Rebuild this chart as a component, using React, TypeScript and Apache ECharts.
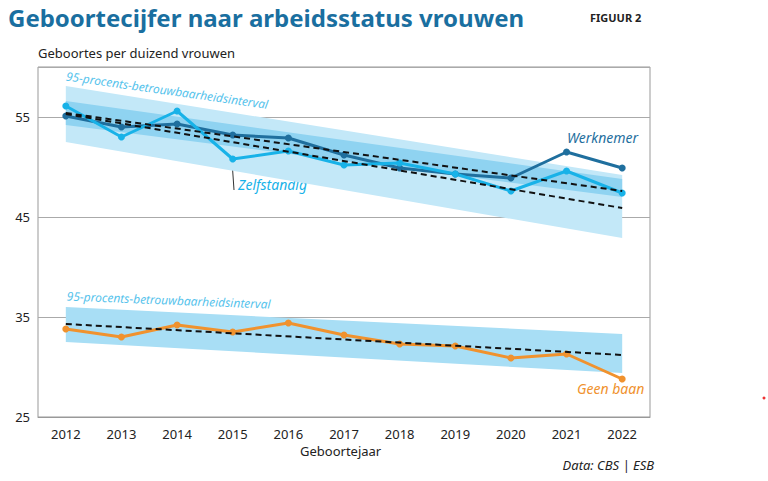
import React, { useEffect, useRef } from "react";
import * as echarts from "echarts";

const years = ["2012", "2013", "2014", "2015", "2016", "2017", "2018", "2019", "2020", "2021", "2022"];
const werknemer = [55.1, 54.0, 54.3, 53.2, 52.9, 51.2, 49.9, 49.3, 48.9, 51.5, 49.9];
const zelfstandig = [56.1, 53.0, 55.6, 50.8, 51.6, 50.2, 50.4, 49.3, 47.6, 49.6, 47.4];
const geenBaan = [33.8, 33.0, 34.2, 33.5, 34.4, 33.2, 32.3, 32.1, 30.9, 31.3, 28.8];

// trend lines and bands: values at 2012 and 2022
const trendWerknemer = [55.4, 47.6];
const trendZelfstandig = [55.3, 45.9];
const trendGeenBaan = [34.3, 31.2];
const bandZelfLow = [52.5, 42.9];
const bandZelfHigh = [58.1, 49.2];
const bandWerkLow = [54.2, 47.0];
const bandWerkHigh = [56.6, 48.8];
const bandGeenLow = [32.5, 29.4];
const bandGeenHigh = [36.0, 33.3];

const ends = (v: number[]) => [[years[0], v[0]], [years[years.length - 1], v[1]]];
const width = (lo: number[], hi: number[]) => [hi[0] - lo[0], hi[1] - lo[1]];

const band = (name: string, lo: number[], hi: number[], color: string) => [
  {
    type: "line", stack: name, data: ends(lo), symbol: "none",
    lineStyle: { opacity: 0 }, silent: true, z: 1,
  },
  {
    type: "line", stack: name, data: ends(width(lo, hi)), symbol: "none",
    lineStyle: { opacity: 0 }, areaStyle: { color, opacity: 1 }, silent: true, z: 1,
  },
];

const trend = (v: number[]) => ({
  type: "line", data: ends(v), symbol: "none", z: 4,
  lineStyle: { color: "#111", width: 2, type: [6, 4] },
});

const main = (data: number[], color: string) => ({
  type: "line", data, symbol: "circle", symbolSize: 7, z: 3,
  lineStyle: { color, width: 3 }, itemStyle: { color },
});

const App: React.FC = () => {
  const ref = useRef<HTMLDivElement>(null);

  useEffect(() => {
    if (!ref.current) return;
    const chart = echarts.init(ref.current, undefined, { renderer: "svg" });
    chart.setOption({
      animation: false,
      textStyle: { fontFamily: "Noto Sans" },
      grid: { left: 38, right: 118, top: 67, bottom: 64 },
      xAxis: {
        type: "category", data: years,
        axisLine: { lineStyle: { color: "#999" } },
        axisTick: { alignWithLabel: true, length: 6, lineStyle: { color: "#999" } },
        axisLabel: { color: "#222", fontSize: 13, margin: 10 },
      },
      yAxis: {
        type: "value", min: 25, max: 60, interval: 10,
        axisLabel: { color: "#222", fontSize: 13, showMaxLabel: false },
        splitLine: { lineStyle: { color: "#aaa" } },
      },
      series: [
        ...band("z", bandZelfLow, bandZelfHigh, "#c3e8f8"),
        ...band("w", bandWerkLow, bandWerkHigh, "#8fd3f1"),
        ...band("g", bandGeenLow, bandGeenHigh, "#a8def5"),
        main(werknemer, "#1f6f9e"),
        main(zelfstandig, "#18b2e8"),
        main(geenBaan, "#f0922e"),
        trend(trendWerknemer),
        trend(trendZelfstandig),
        trend(trendGeenBaan),
      ],
      graphic: [
        { type: "rect", shape: { x: 38, y: 67, width: 612, height: 350 }, style: { fill: "none", stroke: "#999", lineWidth: 1 }, silent: true },
        { type: "text", left: 8, top: 5, style: { text: "Geboortecijfer naar arbeidsstatus vrouwen", fill: "#1a6fa0", font: "bold 24px 'Noto Sans'" } },
        { type: "text", left: 590, top: 12, style: { text: "FIGUUR 2", fill: "#222", font: "bold 11px 'Noto Sans'" } },
        { type: "text", left: 38, top: 46, style: { text: "Geboortes per duizend vrouwen", fill: "#222", font: "13px 'Noto Sans'" } },
        { type: "text", x: 67, y: 70, rotation: -0.14, style: { text: "95-procents-betrouwbaarheidsinterval", fill: "#56c3ec", font: "italic 12px 'Noto Sans'" } },
        { type: "text", x: 67, y: 290, rotation: -0.04, style: { text: "95-procents-betrouwbaarheidsinterval", fill: "#56c3ec", font: "italic 12px 'Noto Sans'" } },
        { type: "text", left: 567, top: 130, style: { text: "Werknemer", fill: "#1f6f9e", font: "italic 14px 'Noto Sans'" } },
        { type: "text", left: 238, top: 177, style: { text: "Zelfstandig", fill: "#18b2e8", font: "italic 14px 'Noto Sans'" } },
        { type: "line", shape: { x1: 232, y1: 161, x2: 234, y2: 190 }, style: { stroke: "#333", lineWidth: 1 } },
        { type: "text", left: 577, top: 381, style: { text: "Geen baan", fill: "#f0922e", font: "italic 14px 'Noto Sans'" } },
        { type: "text", left: 300, top: 444, style: { text: "Geboortejaar", fill: "#222", font: "13px 'Noto Sans'" } },
        { type: "text", right: 114, top: 458, style: { text: "Data: CBS | ESB", fill: "#222", font: "italic 13px 'Noto Sans'" } },
        { type: "circle", shape: { cx: 764, cy: 398, r: 1.5 }, style: { fill: "#e33" } },
      ],
    });
    return () => chart.dispose();
  }, []);

  return <div ref={ref} style={{ position: "absolute", left: 0, top: 0, width: 768, height: 481, background: "#fff" }} />;
};

export default App;
